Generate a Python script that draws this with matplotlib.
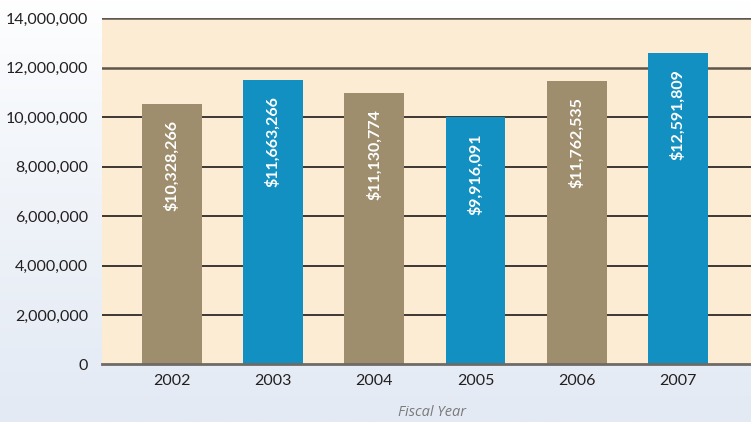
import matplotlib
matplotlib.use("Agg")
import matplotlib.pyplot as plt
import numpy as np

years = ["2002", "2003", "2004", "2005", "2006", "2007"]
bar_heights = [10530000, 11490000, 10970000, 9990000, 11450000, 12590000]
bar_labels = ["$10,328,266", "$11,663,266", "$11,130,774", "$9,916,091", "$11,762,535", "$12,591,809"]
y_ticks = [0, 2000000, 4000000, 6000000, 8000000, 10000000, 12000000, 14000000]
x_title = "Fiscal Year"

tan = "#9e8e6e"
blue = "#1390c2"
colors = [tan, blue, tan, blue, tan, blue]

plt.rcParams['font.family'] = ['Lato', 'DejaVu Sans']

fig = plt.figure(figsize=(7.51, 4.22), dpi=100)

# background gradient
bg = fig.add_axes([0, 0, 1, 1], zorder=-10)
grad = np.linspace(0, 1, 256).reshape(-1, 1)
top = np.array([1.0, 1.0, 1.0])
bot = np.array([0xe3, 0xea, 0xf4]) / 255.0
t = np.clip(grad, 0, 1) ** 0.8
img = top * (1 - t) + bot * t
bg.imshow(img.reshape(256, 1, 3), aspect='auto', extent=[0, 1, 0, 1], origin='upper')
bg.set_axis_off()

ax = fig.add_axes([0.1358, 0.1363, 0.8642, 0.8203])
ax.set_facecolor("#fdecd4")
x = np.arange(len(years))
ax.bar(x, bar_heights, width=0.59, color=colors, zorder=3)

for xi, h, lab in zip(x, bar_heights, bar_labels):
    ax.text(xi, h - 650000, lab, rotation=90, ha='center', va='top',
            color='white', fontsize=11.5, fontweight='bold', zorder=4)

ax.set_xlim(-0.69, 5.72)
ax.set_ylim(0, 14000000)
ax.set_yticks(y_ticks)
ax.set_yticklabels([f"{v:,}" for v in y_ticks], fontsize=11.5, color="#231f20")
ax.set_xticks(x)
ax.set_xticklabels(years, fontsize=11.5, color="#231f20")
ax.tick_params(axis='both', length=0)
ax.tick_params(axis='y', pad=10)
ax.tick_params(axis='x', pad=7)

for v in y_ticks[1:]:
    lw = 1.8 if v >= 12000000 else 1.3
    c = "#5e564c" if v >= 12000000 else "#2e2a26"
    ax.axhline(v, color=c, lw=lw, zorder=2)

for s in ['top', 'right', 'left']:
    ax.spines[s].set_visible(False)
ax.spines['bottom'].set_color("#6e6a66")
ax.spines['bottom'].set_linewidth(2)
ax.spines['bottom'].set_zorder(5)

fig.text(0.575, 0.022, x_title, ha='center', va='center', fontsize=10.5,
         style='italic', color="#7a7a7a", family=['Open Sans', 'DejaVu Sans'])

fig.savefig("out.png", dpi=100)
